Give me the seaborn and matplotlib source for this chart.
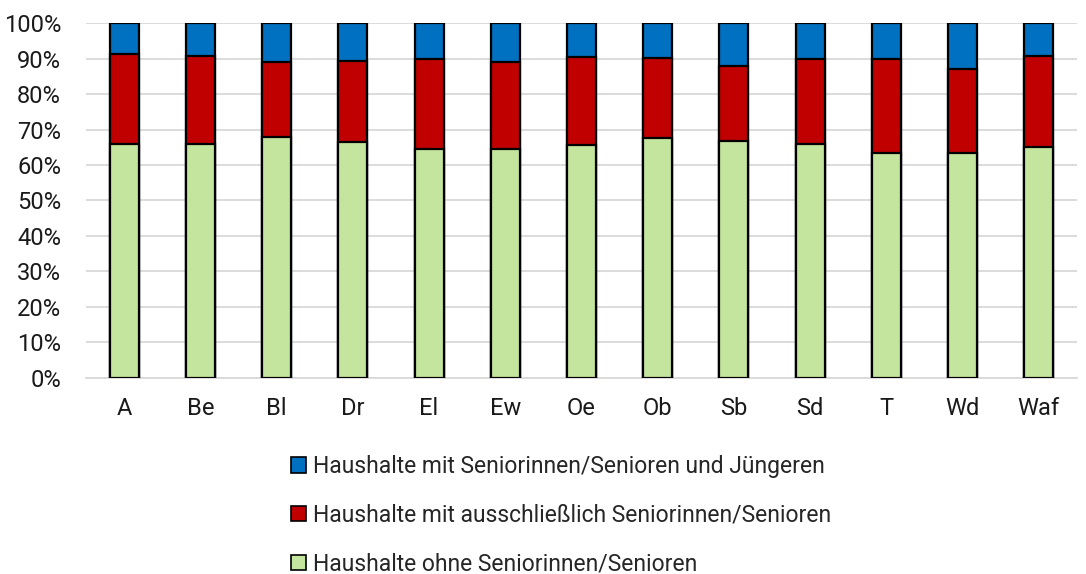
import matplotlib
matplotlib.use("Agg")
import matplotlib.pyplot as plt
from matplotlib.patches import Patch
import seaborn as sns
import pandas as pd

# Districts
categories = ["A", "Be", "Bl", "Dr", "El", "Ew", "Oe", "Ob", "Sb", "Sd", "T", "Wd", "Waf"]
# Share of households (%), stacked bottom to top
ohne_senioren = [66.0, 65.8, 67.9, 66.4, 64.4, 64.4, 65.7, 67.7, 66.9, 65.8, 63.5, 63.5, 65.0]
nur_senioren = [25.2, 25.0, 21.1, 22.9, 25.5, 24.7, 24.8, 22.5, 21.1, 24.1, 26.4, 23.5, 25.7]
mit_juengeren = [round(100 - a - b, 1) for a, b in zip(ohne_senioren, nur_senioren)]

series_labels = [
    "Haushalte mit Seniorinnen/Senioren und Jüngeren",
    "Haushalte mit ausschließlich Seniorinnen/Senioren",
    "Haushalte ohne Seniorinnen/Senioren",
]
series_colors = ["#0070C0", "#C00000", "#C4E59E"]
ytick_values = [0, 10, 20, 30, 40, 50, 60, 70, 80, 90, 100]
ytick_labels = [f"{v}%" for v in ytick_values]

df = pd.DataFrame({
    "bezirk": categories,
    "gruen": ohne_senioren,
    "rot": nur_senioren,
    "blau": mit_juengeren,
})
df["top_blau"] = df["gruen"] + df["rot"] + df["blau"]
df["top_rot"] = df["gruen"] + df["rot"]
df["top_gruen"] = df["gruen"]

sns.set_theme(style="white")
plt.rcParams["font.family"] = ["Roboto", "DejaVu Sans"]

fig = plt.figure(figsize=(10.86, 5.74), dpi=100)
ax = fig.add_axes([0.0792, 0.3415, 0.9125, 0.6184])

for col, color in zip(["top_blau", "top_rot", "top_gruen"], series_colors):
    sns.barplot(data=df, x="bezirk", y=col, color=color, width=0.38,
                edgecolor="black", linewidth=1.6, saturation=1, ax=ax, zorder=3)

ax.set_ylim(0, 100)
ax.set_xlim(-0.5, len(categories) - 0.5)
ax.set_yticks(ytick_values)
ax.set_yticklabels(ytick_labels)
ax.set_xlabel("")
ax.set_ylabel("")
ax.yaxis.grid(True, color="#d9d9d9", linewidth=1.3, zorder=0)
ax.set_axisbelow(True)
for side in ["top", "right", "left"]:
    ax.spines[side].set_visible(False)
ax.spines["bottom"].set_color("#d9d9d9")
ax.spines["bottom"].set_linewidth(1.3)
ax.tick_params(axis="both", length=0, labelsize=17, colors="#1a1a1a")
ax.tick_params(axis="x", pad=14)
ax.tick_params(axis="y", pad=18)

handles = [Patch(facecolor=c, edgecolor="black", linewidth=1.2) for c in series_colors]
fig.legend(handles, series_labels, loc="upper left", bbox_to_anchor=(0.268, 0.207),
           frameon=False, fontsize=16.5, handlelength=0.65, handleheight=0.65,
           handletextpad=0.3, labelspacing=1.12, borderaxespad=0, borderpad=0)

fig.savefig("out.png", dpi=100)
